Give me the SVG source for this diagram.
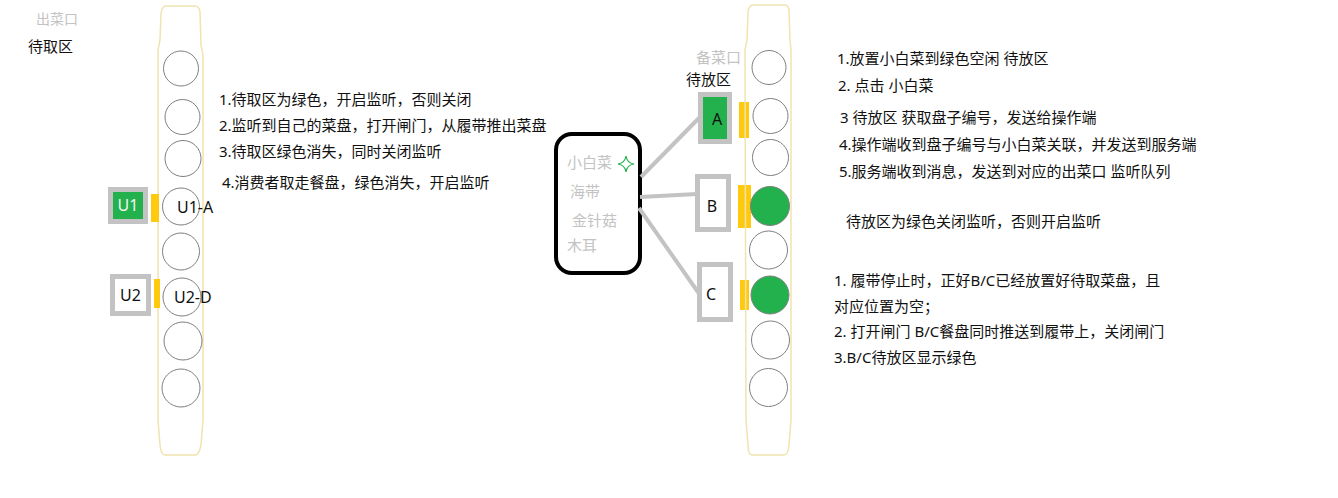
<svg xmlns="http://www.w3.org/2000/svg" width="1338" height="498" viewBox="0 0 1338 498">
  <style>
    text { font-family: "Noto Sans", "Noto Sans CJK SC", "Liberation Sans", sans-serif; font-size: 15px; fill: #111; }
    .tag { font-size: 16px; }
    .muted { fill: #c3c3c3; }
    .light { fill: #f4f4f4; }
    .belt { fill: none; stroke: #efe4b0; stroke-width: 1.5; }
    .slot { fill: none; stroke: #7f7f7f; stroke-width: 1; }
    .slot.full { fill: #22b14c; }
    .gate { fill: #ffc90e; }
    .bay { stroke: #c3c3c3; stroke-width: 5; fill: #fff; }
    .bay.on { fill: #22b14c; }
    .link { stroke: #c3c3c3; stroke-width: 4; fill: none; }
  </style>
  <rect width="1338" height="498" fill="#fff"/>

  <!-- outlet side: conveyor belt with pickup slots -->
  <g id="outlet-belt">
    <path class="belt" d="M166 6 L195 6 Q199 6 200 12 L201 45 L203 55 L203 420 L201 445 Q199 455 195 455 L165 455 Q161 455 160 445 L158 420 L158 50 L160 40 L161 14 Q162 6 166 6 Z"/>
    <circle class="slot" cx="181" cy="68.5" r="17.5"/>
    <circle class="slot" cx="182.5" cy="117" r="17.5"/>
    <circle class="slot" cx="183" cy="158.5" r="18"/>
    <circle class="slot" cx="181" cy="206.5" r="18.5"/>
    <circle class="slot" cx="181" cy="251.5" r="18.5"/>
    <circle class="slot" cx="182" cy="297" r="19"/>
    <circle class="slot" cx="183" cy="341" r="19"/>
    <circle class="slot" cx="181" cy="388" r="19"/>
    <text class="tag" x="177" y="213">U1-A</text>
    <text class="tag" x="174" y="303">U2-D</text>
  </g>
  <g id="outlet-title">
    <text class="muted" x="36" y="24" style="font-size:14px">出菜口</text>
    <text x="28" y="52">待取区</text>
  </g>
  <g id="pickup-U1">
    <rect class="gate" x="151" y="194" width="8" height="28"/>
    <rect class="bay on" x="110.5" y="189.5" width="35" height="32"/>
    <text class="tag light" x="128" y="211" text-anchor="middle">U1</text>
  </g>
  <g id="pickup-U2">
    <rect class="gate" x="154" y="279" width="6" height="29"/>
    <rect class="bay" x="112.5" y="276.5" width="36" height="37"/>
    <text class="tag" x="130.5" y="301" text-anchor="middle">U2</text>
  </g>
  <g id="outlet-notes">
    <text x="219" y="105">1.待取区为绿色，开启监听，否则关闭</text>
    <text x="219" y="131">2.监听到自己的菜盘，打开闸门，从履带推出菜盘</text>
    <text x="219" y="157">3.待取区绿色消失，同时关闭监听</text>
    <text x="222" y="188">4.消费者取走餐盘，绿色消失，开启监听</text>
  </g>

  <!-- dish menu -->
  <g id="menu">
    <rect x="556" y="134" width="84" height="139" rx="16" ry="16" fill="#fff" stroke="#000" stroke-width="4"/>
    <text class="muted" x="567" y="168">小白菜</text>
    <text class="muted" x="570" y="197">海带</text>
    <text class="muted" x="572" y="226">金针菇</text>
    <text class="muted" x="567" y="251">木耳</text>
    <path d="M626 156 Q627 163 634 164 Q627 165 626 172 Q625 165 618 164 Q625 163 626 156 Z" fill="none" stroke="#22b14c" stroke-width="1.2"/>
  </g>

  <g id="connectors">
    <line class="link" x1="641" y1="177" x2="701" y2="116"/>
    <line class="link" x1="640" y1="197" x2="697" y2="194"/>
    <line class="link" x1="639" y1="208" x2="700" y2="295"/>
  </g>

  <!-- loading side: staging bays and belt -->
  <g id="loading-title">
    <text class="muted" x="696" y="63">备菜口</text>
    <text x="686" y="85">待放区</text>
  </g>
  <g id="bay-A">
    <rect class="bay on" x="700.5" y="94.5" width="29" height="47"/>
    <text class="tag" x="717" y="125" text-anchor="middle">A</text>
    <rect class="gate" x="739" y="102" width="10" height="36"/>
  </g>
  <g id="bay-B">
    <rect class="bay" x="697.5" y="176.5" width="31" height="53"/>
    <text class="tag" x="712" y="212" text-anchor="middle">B</text>
    <rect class="gate" x="738" y="185" width="13" height="43"/>
  </g>
  <g id="bay-C">
    <rect class="bay" x="699.5" y="264.5" width="31" height="55"/>
    <text class="tag" x="711" y="300" text-anchor="middle">C</text>
    <rect class="gate" x="740" y="280" width="9" height="30"/>
  </g>
  <g id="loading-belt">
    <path class="belt" d="M753 5 L785 5 Q789 5 789 12 L790 40 L791 50 L791 420 L789 445 Q788 455 784 455 L752 455 Q748 455 748 445 L746 420 L745 50 L747 40 L748 12 Q749 5 753 5 Z"/>
    <circle class="slot" cx="769" cy="67.5" r="17"/>
    <circle class="slot" cx="770.5" cy="116" r="17.5"/>
    <circle class="slot" cx="770.5" cy="157.5" r="18"/>
    <circle class="slot full" cx="770" cy="206" r="19.5"/>
    <circle class="slot" cx="768.5" cy="250" r="19"/>
    <circle class="slot full" cx="770" cy="295" r="19"/>
    <circle class="slot" cx="770.5" cy="340" r="19"/>
    <circle class="slot" cx="768.5" cy="387.5" r="19"/>
  </g>
  <g id="loading-notes">
    <text x="837" y="64">1.放置小白菜到绿色空闲 待放区</text>
    <text x="838" y="91">2. 点击 小白菜</text>
    <text x="840" y="123">3 待放区 获取盘子编号，发送给操作端</text>
    <text x="839" y="150">4.操作端收到盘子编号与小白菜关联，并发送到服务端</text>
    <text x="839" y="177">5.服务端收到消息，发送到对应的出菜口 监听队列</text>
    <text x="846" y="227">待放区为绿色关闭监听，否则开启监听</text>
    <text x="834" y="286">1. 履带停止时，正好B/C已经放置好待取菜盘，且</text>
    <text x="834" y="312">对应位置为空；</text>
    <text x="834" y="337">2. 打开闸门 B/C餐盘同时推送到履带上，关闭闸门</text>
    <text x="834" y="363">3.B/C待放区显示绿色</text>
  </g>
</svg>
